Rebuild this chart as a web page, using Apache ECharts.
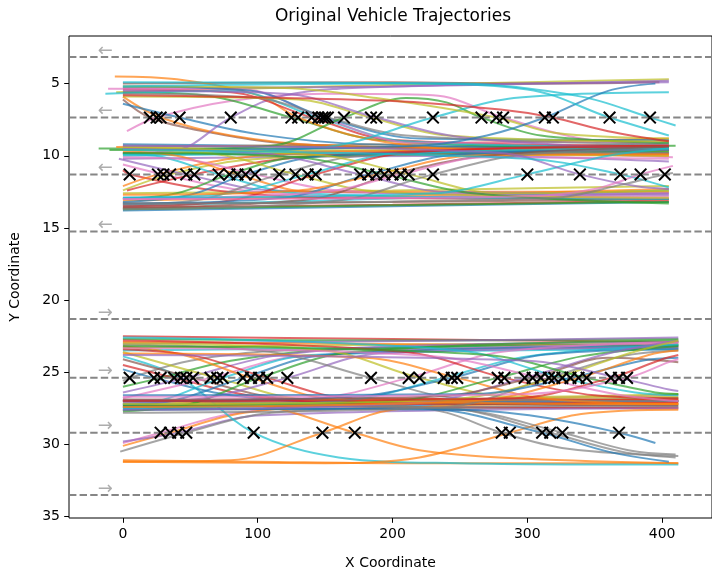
<!DOCTYPE html>
<html><head><meta charset="utf-8">
<script src="https://cdn.jsdelivr.net/npm/echarts@6/dist/echarts.min.js"></script>
<style>html,body{margin:0;padding:0;background:#fff}#c{width:712px;height:575px}</style>
</head><body><div id="c"></div>
<script>
// ---------- data ----------
const titleText = 'Original Vehicle Trajectories';
const xName = 'X Coordinate';
const yName = 'Y Coordinate';
const xTicks = [0, 100, 200, 300, 400];
const yTicks = [5, 10, 15, 20, 25, 30, 35];
const laneLines = [3.16, 7.35, 11.29, 15.25, 21.31, 25.39, 29.19, 33.5];
const laneArrows = ['←', '←', '←', '←', '→', '→', '→', '→'];
const arrowX = -13;

// lane-change crossing points (x) on each inner lane line
const cross735 = [20,25,28,42,80,125,130,140,145,148,150,152,164,184,188,230,266,277,282,313,319,361,391];
const cross1129 = [5,26,30,35,47,53,71,79,85,91,98,116,128,137,143,176,182,188,194,200,206,212,230,300,339,369,384,402];
const cross2539 = [5,23,28,38,43,47,52,65,70,74,89,95,101,107,122,184,212,220,238,244,248,278,283,298,304,310,316,320,326,332,338,344,362,368,374];
const cross2919 = [28,35,41,47,97,148,172,281,287,311,317,326,368];

// trajectories, upper road
const topTracks = [
 [[-5,5.6],[150,5.2],[300,4.9],[405,4.7]],
 [[0,5.3],[200,5.2],[405,4.8]],
 [[0,5.0],[200,4.9],[300,5.0],[398,4.9]],
 [[-18,9.5],[100,9.5],[250,9.4],[410,9.3]],
 [[0,9.2],[200,9.4],[405,9.6]],
 [[0,9.8],[150,9.9],[405,9.9]],
 [[0,10.0],[200,9.7],[405,9.1]],
 [[-5,9.4],[200,9.2],[405,8.8]],
 [[0,9.6],[300,9.8],[408,10.1]],
 [[0,10.2],[250,10.0],[405,10.4]],
 [[0,9.3],[405,9.5]],
 [[0,9.9],[200,9.6],[405,9.7]],
 [[0,13.8],[200,13.5],[405,13.2]],
 [[0,13.6],[200,13.4],[405,13.1]],
 [[0,13.3],[200,13.2],[405,13.0]],
 [[0,13.7],[300,13.3],[405,13.2]],
 [[0,12.9],[200,12.9],[405,12.6]],
 [[0,13.1],[200,12.8],[405,12.3]],
 [[0,13.5],[405,12.4]],
 [[0,12.6],[200,12.4],[405,12.1]],
 [[0,6.1],[20,7.35],[60,8.3],[130,9.2],[405,9.8]],
 [[3,8.3],[25,7.35],[80,6.2],[150,5.7],[230,5.8],[282,7.35],[340,8.8],[405,9.2]],
 [[0,5.9],[28,7.35],[80,8.6],[150,9.3],[405,9.6]],
 [[0,6.4],[42,7.35],[100,8.5],[180,9.2],[405,9.4]],
 [[0,9.8],[40,9.6],[80,7.35],[120,5.8],[200,5.2],[405,4.9]],
 [[0,5.6],[60,5.8],[125,7.35],[190,8.9],[405,9.5]],
 [[-6,4.5],[40,4.7],[100,5.8],[130,7.35],[180,8.8],[250,9.6],[405,10.0]],
 [[0,5.4],[80,5.6],[140,7.35],[200,8.9],[405,9.3]],
 [[-13,5.7],[80,5.5],[145,7.35],[210,9.0],[405,9.4]],
 [[-11,5.35],[90,5.4],[148,7.35],[215,9.1],[405,9.0]],
 [[0,5.2],[95,5.5],[150,7.35],[220,8.8],[405,8.9]],
 [[0,5.7],[100,6.0],[152,7.35],[210,8.6],[405,9.2]],
 [[-10,9.6],[110,9.3],[164,7.35],[210,6.0],[240,6.3],[266,7.35],[310,8.6],[405,9.1]],
 [[0,5.9],[130,6.1],[184,7.35],[240,8.6],[405,9.0]],
 [[0,5.5],[120,5.7],[188,7.35],[250,8.7],[405,9.6]],
 [[0,9.9],[150,9.4],[230,7.35],[290,6.0],[405,5.6]],
 [[0,5.2],[120,5.3],[188,6.0],[277,7.35],[320,8.4],[405,8.8]],
 [[0,9.6],[220,9.3],[270,8.6],[313,7.35],[360,5.5],[395,5.0]],
 [[0,5.8],[200,6.2],[280,6.8],[319,7.35],[360,8.3],[405,9.0]],
 [[0,5.2],[200,5.0],[300,5.4],[361,7.35],[405,8.6]],
 [[0,4.9],[250,5.0],[340,5.9],[391,7.35],[410,7.9]],
 [[0,11.0],[5,11.29],[60,12.3],[150,12.9],[405,13.0]],
 [[0,12.1],[26,11.29],[80,10.2],[160,9.7],[405,9.6]],
 [[0,10.6],[30,11.29],[90,12.4],[200,12.9],[405,12.8]],
 [[0,12.4],[35,11.29],[90,10.3],[200,9.9],[405,10.0]],
 [[-3,10.2],[47,11.29],[110,12.4],[405,12.7]],
 [[3,12.4],[53,11.29],[120,10.2],[250,9.6],[405,9.4]],
 [[0,9.9],[30,10.1],[71,11.29],[130,12.6],[405,13.0]],
 [[0,13.0],[40,12.6],[79,11.29],[130,10.1],[405,9.7]],
 [[0,9.7],[40,10.0],[85,11.29],[140,12.5],[405,12.5]],
 [[0,13.2],[50,12.7],[91,11.29],[150,10.0],[405,9.6]],
 [[0,10.1],[50,10.3],[98,11.29],[160,12.4],[405,12.9]],
 [[0,13.4],[60,13.0],[116,11.29],[180,10.0],[405,9.8]],
 [[0,9.6],[70,9.9],[128,11.29],[190,12.5],[405,12.9]],
 [[0,12.9],[80,12.6],[137,11.29],[200,9.9],[405,9.5]],
 [[0,13.5],[80,13.1],[143,11.29],[210,9.8],[405,9.3]],
 [[0,9.5],[110,9.9],[176,11.29],[240,12.5],[405,12.6]],
 [[0,13.3],[120,12.9],[182,11.29],[250,9.9],[405,9.6]],
 [[0,12.7],[130,12.4],[188,11.29],[260,10.0],[405,9.9]],
 [[0,9.8],[130,10.1],[194,11.29],[260,12.6],[405,13.3]],
 [[0,13.6],[140,13.0],[200,11.29],[270,10.0],[405,9.4]],
 [[0,13.0],[150,12.5],[206,11.29],[270,10.1],[405,10.2]],
 [[0,9.4],[150,10.0],[212,11.29],[280,12.6],[405,12.4]],
 [[0,13.7],[160,13.1],[230,11.29],[300,9.9],[405,9.6]],
 [[0,12.9],[230,12.6],[300,11.29],[360,10.0],[405,9.5]],
 [[0,9.3],[280,9.8],[339,11.29],[380,12.1],[405,12.3]],
 [[0,9.6],[300,10.2],[369,11.29],[405,12.2]],
 [[0,13.0],[300,12.8],[350,12.3],[384,11.29],[408,10.7]],
 [[0,13.3],[320,12.9],[370,12.0],[402,11.29],[408,11.2]]
];

// trajectories, lower road
const bottomTracks = [
 [[0,22.5],[200,22.7],[412,22.9]],
 [[0,22.7],[200,22.8],[412,22.7]],
 [[0,23.0],[250,22.8],[412,22.6]],
 [[0,23.3],[200,23.1],[412,23.0]],
 [[0,22.9],[412,23.2]],
 [[0,23.5],[200,23.3],[412,23.1]],
 [[0,27.4],[200,27.3],[412,27.0]],
 [[0,27.1],[412,27.2]],
 [[0,26.9],[250,27.0],[412,26.8]],
 [[0,27.6],[250,27.5],[412,27.4]],
 [[0,27.3],[412,27.5]],
 [[0,27.0],[200,26.9],[412,26.6]],
 [[0,31.1],[100,31.2],[200,31.3],[412,31.3]],
 [[0,29.9],[28,29.19],[80,27.9],[150,27.3],[412,27.0]],
 [[0,30.1],[35,29.19],[90,27.8],[200,27.1],[412,26.9]],
 [[0,29.8],[41,29.19],[100,28.0],[412,27.5]],
 [[-2,30.5],[47,29.19],[110,27.8],[250,27.4],[412,27.3]],
 [[0,23.9],[43,25.39],[97,29.19],[160,30.9],[250,31.3],[412,31.4]],
 [[0,31.2],[80,31.1],[148,29.19],[200,27.6],[300,27.2],[412,27.1]],
 [[0,27.0],[100,27.3],[172,29.19],[220,30.4],[300,31.0],[412,31.3]],
 [[0,27.4],[200,27.3],[240,27.8],[281,29.19],[330,30.3],[412,30.8]],
 [[0,31.2],[150,31.3],[220,30.9],[287,29.19],[340,27.9],[412,27.6]],
 [[0,27.6],[220,27.5],[311,29.19],[360,30.5],[405,31.2]],
 [[0,27.2],[240,27.5],[317,29.19],[370,30.5],[410,30.9]],
 [[0,27.0],[250,27.6],[326,29.19],[375,30.4],[410,30.7]],
 [[0,27.5],[250,27.6],[310,28.1],[368,29.19],[395,29.9]],
 [[0,25.6],[5,25.39],[50,24.2],[120,23.5],[412,23.3]],
 [[0,24.8],[23,25.39],[80,26.6],[160,27.1],[412,27.0]],
 [[0,26.0],[28,25.39],[80,24.2],[160,23.4],[412,23.1]],
 [[0,24.5],[38,25.39],[100,26.7],[200,27.2],[412,27.1]],
 [[0,26.4],[47,25.39],[110,23.9],[200,23.2],[412,22.9]],
 [[0,24.1],[52,25.39],[120,26.8],[412,27.3]],
 [[0,26.8],[65,25.39],[130,23.9],[412,23.0]],
 [[0,23.6],[70,25.39],[140,26.9],[412,26.7]],
 [[0,27.2],[30,26.9],[74,25.39],[140,23.8],[412,23.4]],
 [[0,27.3],[40,26.9],[89,25.39],[150,23.8],[412,23.2]],
 [[0,23.2],[45,23.8],[95,25.39],[160,26.9],[412,27.2]],
 [[0,27.7],[50,27.2],[101,25.39],[170,23.6],[412,22.8]],
 [[0,23.4],[55,23.9],[107,25.39],[170,26.8],[412,26.9]],
 [[0,27.1],[60,26.8],[122,25.39],[190,23.7],[412,23.3]],
 [[0,23.1],[110,23.6],[184,25.39],[250,26.8],[412,27.0]],
 [[0,26.9],[140,26.8],[212,25.39],[280,23.6],[412,22.9]],
 [[0,23.0],[150,23.5],[220,25.39],[290,26.7],[412,26.5]],
 [[0,27.5],[170,26.9],[238,25.39],[300,23.9],[412,23.1]],
 [[0,27.0],[170,26.7],[244,25.39],[310,23.8],[412,23.4]],
 [[0,23.7],[180,24.0],[248,25.39],[310,26.8],[412,27.2]],
 [[0,27.3],[200,27.0],[278,25.39],[340,23.9],[412,23.2]],
 [[0,22.8],[210,23.6],[283,25.39],[350,26.6],[412,26.8]],
 [[0,27.6],[220,27.1],[298,25.39],[360,23.7],[412,22.8]],
 [[0,26.9],[230,26.7],[304,25.39],[360,24.0],[412,24.3]],
 [[0,23.3],[230,23.9],[310,25.39],[370,26.6],[412,27.0]],
 [[0,27.8],[240,27.4],[316,25.39],[370,23.9],[412,23.5]],
 [[0,27.2],[240,26.9],[320,25.39],[375,23.7],[412,22.8]],
 [[0,22.6],[250,23.5],[326,25.39],[380,26.4],[412,26.6]],
 [[0,26.6],[260,26.5],[332,25.39],[385,24.2],[412,24.0]],
 [[0,27.4],[260,27.0],[338,25.39],[390,23.8],[412,23.5]],
 [[0,23.2],[270,23.8],[344,25.39],[395,26.4],[412,26.5]],
 [[0,27.0],[290,26.8],[362,25.39],[400,24.1],[412,23.8]],
 [[0,23.8],[300,24.2],[368,25.39],[405,26.2],[412,26.3]],
 [[0,26.7],[300,26.5],[374,25.39],[405,24.3],[412,24.1]]
];

// ---------- styles ----------
const tab10 = {b:'#1f77b4',o:'#ff7f0e',g:'#2ca02c',r:'#d62728',p:'#9467bd',n:'#8c564b',k:'#e377c2',y:'#7f7f7f',l:'#bcbd22',c:'#17becf'};
const topColorCodes = ('l p n g b r c o k p y l b r n g k o c l ' +
  'n k o b p g o r c k b y g l p c l b r c c ' +
  'r o k l p r c g o b k y l c r p b o g n k l y c p c k y').split(' ');
const bottomColorCodes = ('r g p l o c b l g y r k o ' +
  'k o p y c o o y o b y y b ' +
  'y b g r p n k l c b o g r p y k l c b o g r p n k y l c b o g r p k').split(' ');

const FONT = 'DejaVu Sans';
const series = [];
function addTracks(tracks, codes) {
  tracks.forEach((pts, i) => {
    series.push({
      type: 'line', data: pts, smooth: 0.35, showSymbol: false, silent: true,
      clip: true, z: 2,
      lineStyle: {width: 2, color: tab10[codes[i]] || '#1f77b4', opacity: 0.7}
    });
  });
}
addTracks(topTracks, topColorCodes);
addTracks(bottomTracks, bottomColorCodes);

laneLines.forEach(v => {
  series.push({
    type: 'line', data: [[-40, v], [437, v]], showSymbol: false, silent: true, z: 4,
    lineStyle: {width: 2, color: '#808080', type: [7.4, 3.2], opacity: 0.95}
  });
});

series.push({
  type: 'scatter', silent: true, z: 5, symbolSize: 0,
  data: laneLines.map((v, i) => ({value: [arrowX, v - 0.42], name: laneArrows[i]})),
  label: {show: true, position: 'inside', formatter: p => p.name, color: '#999999',
    fontSize: 18, fontFamily: FONT}
});

const crosses = [];
cross735.forEach(x => crosses.push([x, laneLines[1]]));
cross1129.forEach(x => crosses.push([x, laneLines[2]]));
cross2539.forEach(x => crosses.push([x, laneLines[5]]));
cross2919.forEach(x => crosses.push([x, laneLines[6]]));
series.push({
  type: 'custom', silent: true, z: 10, data: crosses,
  renderItem: (params, api) => {
    const p = api.coord([api.value(0), api.value(1)]);
    const s = 5.8;
    const st = {stroke: '#000', lineWidth: 2};
    return {type: 'group', children: [
      {type: 'line', shape: {x1: p[0]-s, y1: p[1]-s, x2: p[0]+s, y2: p[1]+s}, style: st},
      {type: 'line', shape: {x1: p[0]-s, y1: p[1]+s, x2: p[0]+s, y2: p[1]-s}, style: st}
    ]};
  }
});

const chart = echarts.init(document.getElementById('c'), null, {renderer: 'canvas'});
chart.setOption({
  animation: false,
  backgroundColor: '#fff',
  title: {text: titleText, left: 393, top: 8, padding: 0, textAlign: 'center',
    textStyle: {fontFamily: FONT, fontSize: 17, fontWeight: 'normal', color: '#000'}},
  grid: {left: 69, top: 36, width: 650, height: 483.5, show: true, borderColor: '#000', borderWidth: 1, backgroundColor: 'transparent'},
  xAxis: {type: 'value', min: -40, max: 437,
    name: xName, nameLocation: 'middle', nameGap: 38,
    nameTextStyle: {fontFamily: FONT, fontSize: 14, color: '#000'},
    axisLine: {show: false, onZero: false}, splitLine: {show: false},
    axisTick: {show: true, length: 4.8, customValues: xTicks, lineStyle: {color: '#000', width: 1}},
    axisLabel: {customValues: xTicks, margin: 9, fontFamily: FONT, fontSize: 14, color: '#000'}
  },
  yAxis: {type: 'value', inverse: true, min: 1.7, max: 35.1,
    name: yName, nameLocation: 'middle', nameGap: 47, nameRotate: 90,
    nameTextStyle: {fontFamily: FONT, fontSize: 14, color: '#000'},
    axisLine: {show: false, onZero: false}, splitLine: {show: false},
    axisTick: {show: true, length: 4.8, customValues: yTicks, lineStyle: {color: '#000', width: 1}},
    axisLabel: {customValues: yTicks, margin: 9, fontFamily: FONT, fontSize: 14, color: '#000'}
  },
  series: series
});
</script>
</body></html>
